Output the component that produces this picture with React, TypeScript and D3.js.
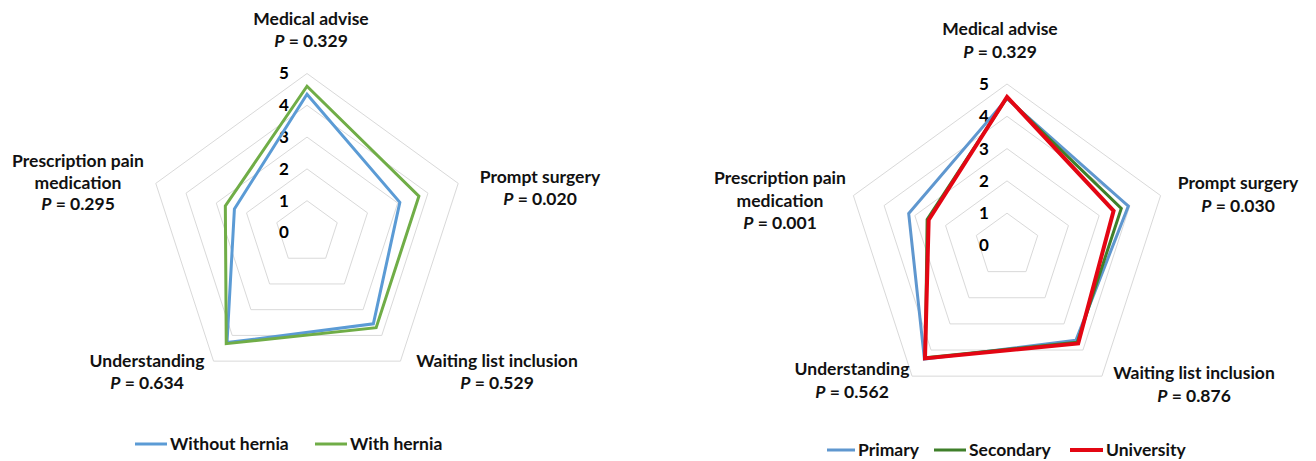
import * as d3 from 'd3';

// axes go clockwise from the top
const categories = ['Medical advise', 'Prompt surgery', 'Waiting list inclusion', 'Understanding', 'Prescription pain medication'];
const ticks = [0, 1, 2, 3, 4, 5];

const herniaP = ['0.329', '0.020', '0.529', '0.634', '0.295'];
const withoutHernia = [4.35, 3.07, 3.55, 4.28, 2.4];
const withHernia = [4.6, 3.7, 3.7, 4.32, 2.7];

const educationP = ['0.329', '0.030', '0.876', '0.562', '0.001'];
const primary = [4.55, 3.95, 3.63, 4.35, 3.2];
const secondary = [4.58, 3.72, 3.7, 4.3, 2.6];
const university = [4.6, 3.47, 3.75, 4.32, 2.55];

const FONT = "Lato, 'Open Sans', sans-serif";
const FS = 17.5;

interface Series { name: string; values: number[]; color: string; width: number }
interface LabelPos { x: number; y: number }
interface ChartCfg {
    cx: number; cy: number; r: number;
    pvals: string[];
    series: Series[];
    labels: LabelPos[];
    lineH: number;
    legendY: number;
    legend: { x: number; len: number }[];
}

const charts: ChartCfg[] = [
    {
        cx: 307, cy: 232.5, r: 159,
        pvals: herniaP,
        series: [
            { name: 'Without hernia', values: withoutHernia, color: '#5b9bd5', width: 3 },
            { name: 'With hernia', values: withHernia, color: '#70ad47', width: 3 },
        ],
        labels: [{ x: 311, y: 25 }, { x: 540, y: 183 }, { x: 497, y: 367 }, { x: 147, y: 367 }, { x: 78, y: 167 }],
        lineH: 21.5,
        legendY: 444,
        legend: [{ x: 135, len: 32 }, { x: 315, len: 32 }],
    },
    {
        cx: 1007, cy: 245.5, r: 161.5,
        pvals: educationP,
        series: [
            { name: 'Primary', values: primary, color: '#5f97cf', width: 3 },
            { name: 'Secondary', values: secondary, color: '#3f7f2a', width: 3 },
            { name: 'University', values: university, color: '#e30613', width: 4 },
        ],
        labels: [{ x: 1000, y: 35 }, { x: 1238, y: 189 }, { x: 1194, y: 379 }, { x: 852, y: 375 }, { x: 780, y: 184 }],
        lineH: 22.5,
        legendY: 450,
        legend: [{ x: 827, len: 28 }, { x: 934, len: 32 }, { x: 1070, len: 33 }],
    },
];

const angle = d3.scaleLinear().domain([0, categories.length]).range([0, 2 * Math.PI]);

const Radar = ({ cfg }: { cfg: ChartCfg }) => {
    const radius = d3.scaleLinear().domain([0, 5]).range([0, cfg.r]);
    const line = d3.lineRadial<number>()
        .angle((_, i) => angle(i))
        .radius(d => radius(d))
        .curve(d3.curveLinearClosed);

    const wrap = (name: string) => name === 'Prescription pain medication' ? ['Prescription pain', 'medication'] : [name];

    return (
        <g>
            <g transform={`translate(${cfg.cx},${cfg.cy})`}>
                {ticks.slice(1).map(t => (
                    <path key={t} d={line(categories.map(() => t)) || ''} fill="none" stroke="#d9d9d9" strokeWidth={1} />
                ))}
                {ticks.map(t => (
                    <text key={t} x={-23} y={-radius(t)} dy="0.35em" textAnchor="middle"
                        fontFamily={FONT} fontWeight="bold" fontSize={17} fill="#000">{t}</text>
                ))}
                {cfg.series.map(s => (
                    <path key={s.name} d={line(s.values) || ''} fill="none" stroke={s.color}
                        strokeWidth={s.width} strokeLinejoin="miter" />
                ))}
            </g>
            {categories.map((c, i) => {
                const lines = wrap(c);
                const pos = cfg.labels[i];
                return (
                    <text key={c} x={pos.x} y={pos.y} textAnchor="middle" fontFamily={FONT}
                        fontWeight="bold" fontSize={FS} fill="#111">
                        {lines.map((l, j) => (
                            <tspan key={j} x={pos.x} y={pos.y + j * cfg.lineH}>{l}</tspan>
                        ))}
                        <tspan x={pos.x} y={pos.y + lines.length * cfg.lineH}>
                            <tspan fontStyle="italic">P</tspan> = {cfg.pvals[i]}
                        </tspan>
                    </text>
                );
            })}
            {cfg.series.map((s, i) => {
                const lg = cfg.legend[i];
                return (
                    <g key={s.name}>
                        <line x1={lg.x} x2={lg.x + lg.len} y1={cfg.legendY} y2={cfg.legendY}
                            stroke={s.color} strokeWidth={s.width} />
                        <text x={lg.x + lg.len + 3} y={cfg.legendY + 5.5} fontFamily={FONT}
                            fontWeight="bold" fontSize={FS} fill="#111">{s.name}</text>
                    </g>
                );
            })}
        </g>
    );
};

export default function App() {
    return (
        <svg width={1316} height={461} style={{ position: 'absolute', left: 0, top: 0, background: '#fff' }}>
            <rect width={1316} height={461} fill="#fff" />
            {charts.map((c, i) => <Radar key={i} cfg={c} />)}
        </svg>
    );
}
